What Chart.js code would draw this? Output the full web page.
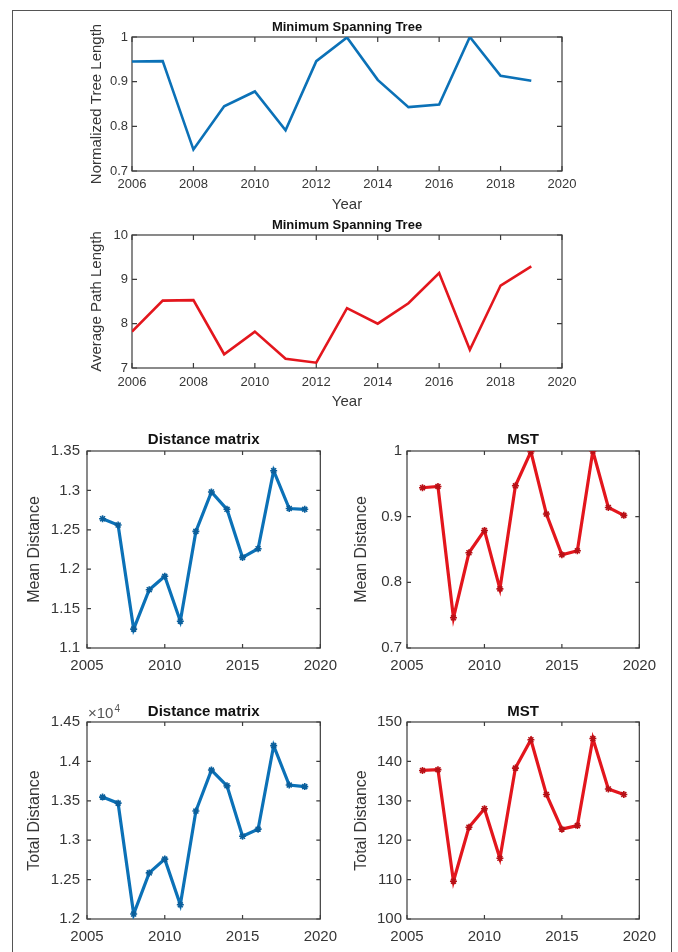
<!DOCTYPE html>
<html>
<head>
<meta charset="utf-8">
<script src="https://cdn.jsdelivr.net/npm/chart.js@4.4.1/dist/chart.umd.min.js"></script>
<style>
  html, body { margin: 0; padding: 0; background: #fff; }
  body { width: 678px; height: 952px; position: relative; overflow: hidden; }
  #frame { position: absolute; left: 12px; top: 10px; width: 660px; height: 990px;
           border: 1.5px solid #555; box-sizing: border-box; }
  canvas { position: absolute; }
</style>
</head>
<body>
<div id="frame"></div>
<canvas id="treeLength"></canvas>
<canvas id="pathLength"></canvas>
<canvas id="dmMean"></canvas>
<canvas id="mstMean"></canvas>
<canvas id="dmTotal"></canvas>
<canvas id="mstTotal"></canvas>
<script>
// ---- data ----
const years = [2006, 2007, 2008, 2009, 2010, 2011, 2012, 2013, 2014, 2015, 2016, 2017, 2018, 2019];

const normalizedTreeLength = [0.945, 0.946, 0.748, 0.845, 0.878, 0.791, 0.946, 0.999, 0.904, 0.843, 0.849, 1.0, 0.913, 0.902];
const averagePathLength    = [7.82, 8.52, 8.53, 7.31, 7.82, 7.21, 7.12, 8.35, 8.0, 8.46, 9.14, 7.41, 8.86, 9.29];
const distanceMatrixMean   = [1.264, 1.256, 1.124, 1.174, 1.191, 1.134, 1.248, 1.298, 1.276, 1.215, 1.226, 1.325, 1.277, 1.276];
const mstMean              = [0.944, 0.946, 0.746, 0.845, 0.879, 0.790, 0.947, 0.999, 0.904, 0.842, 0.848, 1.0, 0.914, 0.902];
const distanceMatrixTotal  = [13547, 13470, 12063, 12585, 12760, 12180, 13370, 13890, 13690, 13050, 13140, 14200, 13700, 13680];
const mstTotal             = [137.7, 137.9, 109.6, 123.3, 128.0, 115.4, 138.3, 145.5, 131.6, 122.8, 123.7, 145.8, 133.0, 131.6];

// ---- tick values and labels ----
const topYearTicks      = [2006, 2008, 2010, 2012, 2014, 2016, 2018, 2020];
const topYearLabels     = ['2006', '2008', '2010', '2012', '2014', '2016', '2018', '2020'];
const bottomYearTicks   = [2005, 2010, 2015, 2020];
const bottomYearLabels  = ['2005', '2010', '2015', '2020'];
const treeLengthTicks   = [0.7, 0.8, 0.9, 1];
const treeLengthLabels  = ['0.7', '0.8', '0.9', '1'];
const pathLengthTicks   = [7, 8, 9, 10];
const pathLengthLabels  = ['7', '8', '9', '10'];
const dmMeanTicks       = [1.1, 1.15, 1.2, 1.25, 1.3, 1.35];
const dmMeanLabels      = ['1.1', '1.15', '1.2', '1.25', '1.3', '1.35'];
const mstMeanTicks      = [0.7, 0.8, 0.9, 1];
const mstMeanLabels     = ['0.7', '0.8', '0.9', '1'];
const dmTotalTicks      = [12000, 12500, 13000, 13500, 14000, 14500];
const dmTotalLabels     = ['1.2', '1.25', '1.3', '1.35', '1.4', '1.45'];
const mstTotalTicks     = [100, 110, 120, 130, 140, 150];
const mstTotalLabels    = ['100', '110', '120', '130', '140', '150'];

// ---- styling ----
const FONT = "'Liberation Sans', Arial, Helvetica, sans-serif";
const TEXT = '#363636';
const BLUE = '#0b71b7';
const RED = '#e3161d';

// Box around the axes with inward tick marks on all four sides (and optional exponent label)
const axesBox = {
  id: 'axesBox',
  beforeDatasetsDraw(chart, args, opts) {
    const { ctx, chartArea: a } = chart;
    const x = chart.scales.x, y = chart.scales.y;
    ctx.save();
    ctx.strokeStyle = opts.color;
    ctx.lineWidth = opts.width;
    ctx.strokeRect(a.left, a.top, a.right - a.left, a.bottom - a.top);
    ctx.beginPath();
    const L = opts.tickLen;
    x.ticks.forEach(t => {
      const px = x.getPixelForValue(t.value);
      ctx.moveTo(px, a.bottom); ctx.lineTo(px, a.bottom - L);
      ctx.moveTo(px, a.top); ctx.lineTo(px, a.top + L);
    });
    y.ticks.forEach(t => {
      const py = y.getPixelForValue(t.value);
      ctx.moveTo(a.left, py); ctx.lineTo(a.left + L, py);
      ctx.moveTo(a.right, py); ctx.lineTo(a.right - L, py);
    });
    ctx.stroke();
    if (opts.exponent) {
      ctx.fillStyle = '#555';
      ctx.textBaseline = 'alphabetic';
      ctx.textAlign = 'left';
      ctx.font = `15px ${FONT}`;
      const base = '\u00d710';
      ctx.fillText(base, a.left + 1, a.top - 4);
      const w = ctx.measureText(base).width;
      ctx.font = `10px ${FONT}`;
      ctx.fillText(opts.exponent, a.left + 1 + w + 1, a.top - 10);
    }
    ctx.restore();
  }
};

// Build one panel so that its plot box lands on the given page rectangle
function panel(id, R, A, cfg) {
  const cv = document.getElementById(id);
  cv.width = R.width; cv.height = R.height;
  cv.style.left = R.left + 'px'; cv.style.top = R.top + 'px';

  const lhYT = cfg.yTitleSize * 1.2;
  const lhT = cfg.titleSize * 1.2;
  const lhTick = cfg.tickSize * 1.2;
  const pl = (cfg.yTitleX - R.left) - lhYT / 2;
  const yW = (A.l - R.left) - pl;
  const pr = (R.left + R.width) - A.r;
  const titlePadB = A.t - cfg.titleY - lhT / 2;
  const pt = (cfg.titleY - R.top) - lhT / 2;
  const xPad = cfg.xLabelY - A.b - lhTick / 2;
  let xH;
  if (cfg.xTitle) {
    xH = cfg.xTitleY + cfg.xTitleSize * 1.2 / 2 - A.b;
  } else {
    xH = cfg.xLabelY + lhTick / 2 - A.b + 1;
  }
  const pb = (R.top + R.height) - (A.b + xH);

  const tickFont = { family: FONT, size: cfg.tickSize };
  const labelFrom = (vals, labels) => v => {
    const i = vals.findIndex(t => Math.abs(t - v) < 1e-9);
    return i >= 0 ? labels[i] : '';
  };

  const ds = {
    data: cfg.values.map((v, i) => ({ x: years[i], y: v })),
    borderColor: cfg.color,
    borderWidth: cfg.lineWidth,
    tension: 0,
    fill: false,
    pointRadius: cfg.marker ? 3.5 : 0,
    pointStyle: 'star',
    pointBorderColor: cfg.markerColor || cfg.color,
    pointBorderWidth: 1.6,
    pointBackgroundColor: cfg.color
  };

  return new Chart(cv, {
    type: 'line',
    data: { datasets: [ds] },
    plugins: [axesBox],
    options: {
      responsive: false,
      animation: false,
      devicePixelRatio: 1,
      layout: { padding: { left: pl, right: pr, top: pt, bottom: pb } },
      plugins: {
        legend: { display: false },
        tooltip: { enabled: false },
        title: {
          display: true,
          text: cfg.title,
          fullSize: false,
          color: '#111',
          font: { family: FONT, size: cfg.titleSize, weight: 'bold', lineHeight: 1.2 },
          padding: { top: 0, bottom: titlePadB }
        },
        axesBox: { color: '#3c3c3c', width: 1.2, tickLen: cfg.tickLen, exponent: cfg.exponent }
      },
      scales: {
        x: {
          type: 'linear',
          min: cfg.xTicks[0],
          max: cfg.xTicks[cfg.xTicks.length - 1],
          border: { display: false },
          grid: { display: false, drawTicks: false },
          afterBuildTicks: s => { s.ticks = cfg.xTicks.map(v => ({ value: v })); },
          ticks: {
            autoSkip: false, maxRotation: 0, padding: xPad,
            color: TEXT, font: tickFont,
            callback: labelFrom(cfg.xTicks, cfg.xLabels)
          },
          title: cfg.xTitle ? {
            display: true, text: cfg.xTitle, color: TEXT,
            font: { family: FONT, size: cfg.xTitleSize, lineHeight: 1.2 },
            padding: 0
          } : { display: false },
          afterFit: s => { s.height = xH; }
        },
        y: {
          type: 'linear',
          min: cfg.yTicks[0],
          max: cfg.yTicks[cfg.yTicks.length - 1],
          border: { display: false },
          grid: { display: false, drawTicks: false },
          afterBuildTicks: s => { s.ticks = cfg.yTicks.map(v => ({ value: v })); },
          ticks: {
            padding: cfg.yLabelGap,
            color: TEXT, font: tickFont,
            callback: labelFrom(cfg.yTicks, cfg.yLabels)
          },
          title: {
            display: true, text: cfg.yTitle, color: TEXT,
            font: { family: FONT, size: cfg.yTitleSize, lineHeight: 1.2 },
            padding: 0
          },
          afterFit: s => { s.width = yW; }
        }
      }
    }
  });
}

const topStyle = {
  titleSize: 13, tickSize: 13, yTitleSize: 15, xTitleSize: 15,
  yTitleX: 97, yLabelGap: 4, tickLen: 5, lineWidth: 2.6, marker: false,
  xTicks: topYearTicks, xLabels: topYearLabels, xTitle: 'Year'
};
const bottomStyle = {
  titleSize: 15, tickSize: 15, yTitleSize: 16,
  tickLen: 4, lineWidth: 3.2, marker: true,
  xTicks: bottomYearTicks, xLabels: bottomYearLabels
};

panel('treeLength', { left: 14, top: 12, width: 640, height: 206 }, { l: 132, t: 37, r: 562, b: 171 },
  Object.assign({}, topStyle, {
    title: 'Minimum Spanning Tree', titleY: 27.5, xLabelY: 184, xTitleY: 205,
    yTitle: 'Normalized Tree Length', yTicks: treeLengthTicks, yLabels: treeLengthLabels,
    values: normalizedTreeLength, color: BLUE
  }));

panel('pathLength', { left: 14, top: 212, width: 640, height: 202 }, { l: 132, t: 235, r: 562, b: 368 },
  Object.assign({}, topStyle, {
    title: 'Minimum Spanning Tree', titleY: 225, xLabelY: 382, xTitleY: 402,
    yTitle: 'Average Path Length', yTicks: pathLengthTicks, yLabels: pathLengthLabels,
    values: averagePathLength, color: RED
  }));

panel('dmMean', { left: 14, top: 420, width: 332, height: 262 }, { l: 87, t: 451, r: 325, b: 648 },
  Object.assign({}, bottomStyle, {
    title: 'Distance matrix', titleY: 440, xLabelY: 666, yTitleX: 35, yLabelGap: 7,
    yTitle: 'Mean Distance', yTicks: dmMeanTicks, yLabels: dmMeanLabels,
    values: distanceMatrixMean, color: BLUE, markerColor: '#0a5f9c'
  }));

panel('mstMean', { left: 340, top: 420, width: 325, height: 262 }, { l: 407, t: 451, r: 645, b: 648 },
  Object.assign({}, bottomStyle, {
    title: 'MST', titleY: 440, xLabelY: 666, yTitleX: 362, yLabelGap: 5,
    yTitle: 'Mean Distance', yTicks: mstMeanTicks, yLabels: mstMeanLabels,
    values: mstMean, color: RED, markerColor: '#b81016'
  }));

panel('dmTotal', { left: 14, top: 690, width: 332, height: 262 }, { l: 87, t: 722, r: 325, b: 919 },
  Object.assign({}, bottomStyle, {
    title: 'Distance matrix', titleY: 712, xLabelY: 937, yTitleX: 35, yLabelGap: 7,
    yTitle: 'Total Distance', yTicks: dmTotalTicks, yLabels: dmTotalLabels,
    values: distanceMatrixTotal, color: BLUE, markerColor: '#0a5f9c', exponent: '4'
  }));

panel('mstTotal', { left: 340, top: 690, width: 325, height: 262 }, { l: 407, t: 722, r: 645, b: 919 },
  Object.assign({}, bottomStyle, {
    title: 'MST', titleY: 712, xLabelY: 937, yTitleX: 362, yLabelGap: 5,
    yTitle: 'Total Distance', yTicks: mstTotalTicks, yLabels: mstTotalLabels,
    values: mstTotal, color: RED, markerColor: '#b81016'
  }));
</script>
</body>
</html>
